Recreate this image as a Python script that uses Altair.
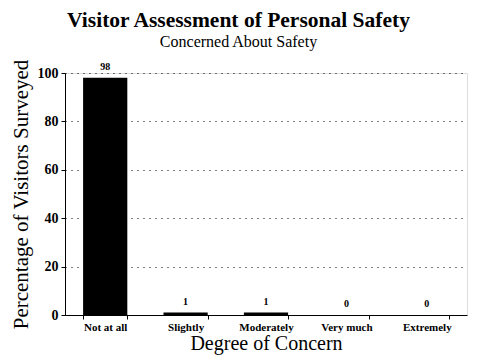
import altair as alt
import pandas as pd

categories = ["Not at all", "Slightly", "Moderately", "Very much", "Extremely"]
values = [98, 1, 1, 0, 0]
y_ticks = [0, 20, 40, 60, 80, 100]

df = pd.DataFrame({"cat": categories, "val": values})

FONT = "Liberation Serif"

x = alt.X("cat:N", sort=categories,
          scale=alt.Scale(paddingInner=0.45, paddingOuter=0.225),
          axis=alt.Axis(title="Degree of Concern", labelAngle=0, tickBand="extent",
                        labelFont=FONT, labelFontSize=11, labelFontWeight="bold",
                        titleFont=FONT, titleFontSize=20, titleFontWeight="normal",
                        labelColor="black", titleColor="black", domainColor="black",
                        tickColor="black", tickSize=4, labelPadding=2, titlePadding=1,
                        grid=False))

y = alt.Y("val:Q", scale=alt.Scale(domain=[0, 100]),
          axis=alt.Axis(title="Percentage of Visitors Surveyed", values=y_ticks,
                        labelFont=FONT, labelFontSize=14, labelFontWeight="bold",
                        titleFont=FONT, titleFontSize=21, titleFontWeight="normal",
                        labelColor="black", titleColor="black", domainColor="black",
                        tickColor="black", tickSize=4, labelPadding=3, titlePadding=6,
                        grid=True, gridColor="black", gridDash=[1, 5], gridWidth=1))

bars = alt.Chart(df).mark_bar(color="black").encode(x=x, y=y)
labels = alt.Chart(df).mark_text(baseline="bottom", dy=-6, font=FONT, fontSize=10,
                                 fontWeight="bold", color="black").encode(
    x=alt.X("cat:N", sort=categories), y="val:Q", text="val:Q")

chart = alt.layer(bars, labels).properties(
    width=402, height=242,
    autosize=alt.AutoSizeParams(type="none"),
    padding={"left": 57, "top": 65, "right": 5, "bottom": 40},
    title=alt.TitleParams(
        text="Visitor Assessment of Personal Safety",
        subtitle="Concerned About Safety",
        font=FONT, fontSize=21.5, fontWeight="bold", color="black",
        subtitleFont=FONT, subtitleFontSize=16, subtitleColor="black",
        anchor="middle", frame="bounds", offset=9, subtitlePadding=3),
).configure_view(stroke="black", strokeWidth=1).configure(background="white")

chart.save("out.html", embed_options={"renderer": "svg", "actions": False})
